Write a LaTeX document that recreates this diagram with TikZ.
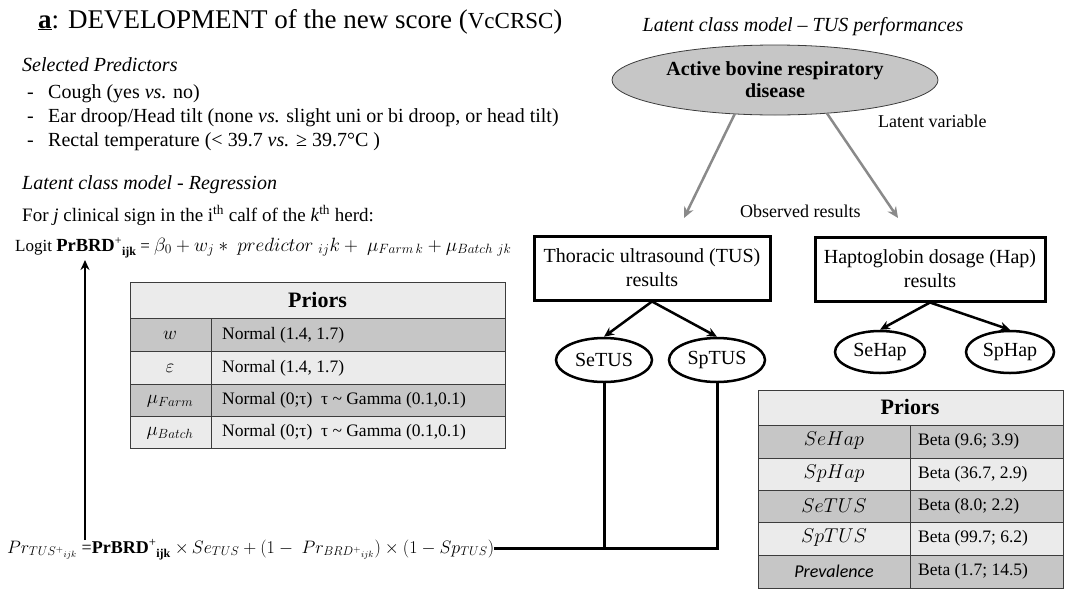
\RequirePackage{fix-cm}
\documentclass[tikz,border=0pt]{standalone}
\usepackage{fontspec}
\setmainfont{Liberation Serif}
\newfontfamily\carl{Carlito}
\usetikzlibrary{shapes.geometric,arrows.meta}
\definecolor{lgray}{HTML}{EBEBEB}
\definecolor{dgray}{HTML}{C6C6C6}
\definecolor{agray}{HTML}{8A8A8A}
\definecolor{bgray}{HTML}{3C3C3C}
\newcommand{\mathbigx}[1]{{\fontsize{19.2}{22}\selectfont$#1$}}
\newcommand{\mathbigy}[1]{{\fontsize{18}{22}\selectfont$#1$}}
\newcommand{\ijkx}{\textbf{\raisebox{-4pt}{\fontsize{12}{14}\selectfont ijk}}}
\begin{document}
\begin{tikzpicture}[x=1pt,y=-1pt,
  T/.style={inner sep=0pt, anchor=base west, font=\fontsize{20}{24}\selectfont},
  S/.style={inner sep=0pt, anchor=base west, font=\fontsize{18}{21}\selectfont},
  obox/.style={draw, line width=3pt, align=center, inner sep=2pt, font=\fontsize{20}{24}\selectfont},
  oell/.style={draw, ellipse, line width=2.5pt, inner sep=0pt, font=\fontsize{20}{24}\selectfont},
  garrow/.style={draw=agray, line width=2.5pt, -{Stealth[length=11pt,width=10pt]}},
  barrow/.style={draw, line width=2.5pt, -{Stealth[length=10pt,width=9pt]}},
  link/.style={draw, line width=3pt},
  tline/.style={draw=bgray, line width=1pt},
  cell/.style={inner sep=0pt, font=\fontsize{17.5}{20}\selectfont},
  cellm/.style={inner sep=0pt, font=\fontsize{19}{22}\selectfont},
  hdr/.style={inner sep=0pt, font=\fontsize{22}{26}\selectfont\bfseries}
]
\useasboundingbox (0,0) rectangle (1073,592);

% ---------- left part ----------
\node[T, font=\fontsize{27}{31}\selectfont] (title) at (38,28)
  {\underline{\textbf{a}}: DEVELOPMENT of the new score ({\fontsize{23}{27}\selectfont VcCRSC})};
\node[T] (selp) at (22,71) {\textit{Selected Predictors}};
\node[T] (d1) at (27,98) {-};
\node[T] (p1) at (48,98) {Cough (yes \textit{vs.} no)};
\node[T] (d2) at (27,122) {-};
\node[T] (p2) at (48,122) {Ear droop/Head tilt (none \textit{vs.} slight uni or bi droop, or head tilt)};
\node[T] (d3) at (27,146) {-};
\node[T] (p3) at (48,146) {Rectal temperature (< 39.7 \textit{vs.} ≥ 39.7°C )};
\node[T] (lcm) at (22,189) {\textit{Latent class model - Regression}};
\node[T, font=\fontsize{19}{23}\selectfont] (forj) at (22,221)
  {For \textit{j} clinical sign in the i\textsuperscript{th} calf of the \textit{k}\textsuperscript{th} herd:};
\node[S, font=\fontsize{17}{20}\selectfont] (logit) at (15,251)
  {Logit \textbf{\fontsize{18.5}{21}\selectfont PrBRD}\textsuperscript{+}\ijkx{} = \mathbigx{\beta_0 + w_j *\ predictor\ _{ij}k +\ \mu_{Farm\,k} + \mu_{Batch\ jk}}};

% left priors table
\fill[lgray] (130,282) rectangle (505,318);
\fill[dgray] (130,318) rectangle (505,351);
\fill[lgray] (130,351) rectangle (505,384);
\fill[dgray] (130,384) rectangle (505,416);
\fill[lgray] (130,416) rectangle (505,448);
\draw[tline] (130,282) rectangle (505,448);
\foreach \yy in {318,351,384,416} \draw[tline] (130,\yy) -- (505,\yy);
\draw[tline] (211,318) -- (211,448);
\node[hdr] (lph) at (317.5,300) {Priors};
\node[cellm] (lw) at (170,335) {$w$};
\node[cellm] (le) at (170,368) {$\varepsilon$};
\node[cellm] (lf) at (170,401) {$\mu_{Farm}$};
\node[cellm] (lb) at (170,433) {$\mu_{Batch}$};
\node[cell, anchor=west] (lw2) at (222,335) {Normal (1.4, 1.7)};
\node[cell, anchor=west] (le2) at (222,368) {Normal (1.4, 1.7)};
\node[cell, anchor=west] (lf2) at (222,400) {Normal (0;τ)\ \ τ \textasciitilde{} Gamma (0.1,0.1)};
\node[cell, anchor=west] (lb2) at (222,432) {Normal (0;τ)\ \ τ \textasciitilde{} Gamma (0.1,0.1)};

% bottom equation
\node[S, font=\fontsize{18}{21}\selectfont] (bot) at (7,553)
  {\mathbigy{Pr_{TUS^{+}{}_{ijk}}} =\textbf{PrBRD}\textsuperscript{+}\ijkx{} \mathbigy{\times\, Se_{TUS} + (1-\ Pr_{BRD^{+}{}_{ijk}}) \times (1 - Sp_{TUS})}};
\coordinate (arrbot) at (85,540);
\coordinate (arrtop) at (85,260);
\draw[barrow] (arrbot) -- (arrtop);

% ---------- right part ----------
\node[inner sep=0pt, font=\fontsize{20}{24}\selectfont\itshape] (lctus) at (803,27) {Latent class model -- TUS performances};
\node[ellipse, draw=bgray, line width=0.8pt, fill=dgray, minimum width=326pt, minimum height=70pt,
      align=center, font=\fontsize{20}{22}\selectfont\bfseries] (brd) at (775,80)
      {Active bovine respiratory\\disease};
\node[S] (latv) at (878,127) {Latent variable};
\node[S] (obsr) at (740,217) {Observed results};
\node[obox, minimum width=236pt, minimum height=64pt] (tus) at (652,268) {Thoracic ultrasound (TUS)\\results};
\node[obox, minimum width=230pt, minimum height=64pt] (hap) at (930,269) {Haptoglobin dosage (Hap)\\results};
\node[oell, minimum width=96pt, minimum height=44pt] (setus) at (604,360) {SeTUS};
\node[oell, minimum width=96pt, minimum height=44pt] (sptus) at (717,360) {SpTUS};
\node[oell, minimum width=90pt, minimum height=42pt] (sehap) at (880,352) {SeHap};
\node[oell, minimum width=88pt, minimum height=42pt] (sphap) at (1010,352) {SpHap};

\draw[garrow] (brd.south) ++(-40,-2) coordinate (g1) -- (684,218);
\draw[garrow] (brd.south) ++(52,-2) coordinate (g2) -- (898,218);
\draw[barrow] (tus.south) -- (setus.north);
\draw[barrow] (tus.south) -- (sptus.north);
\draw[barrow] (hap.south) -- (sehap.north);
\draw[barrow] (hap.south) -- (sphap.north);

\coordinate (j1) at (setus.south |- 0,548);
\coordinate (j2) at (sptus.south |- 0,548);
\draw[link] (setus.south) -- (j1);
\draw[link] (bot.east |- 0,548) -- (j2) -- (sptus.south);

% right priors table
\fill[lgray] (758,390) rectangle (1063,425);
\fill[dgray] (758,425) rectangle (1063,458);
\fill[lgray] (758,458) rectangle (1063,490);
\fill[dgray] (758,490) rectangle (1063,522);
\fill[lgray] (758,522) rectangle (1063,555);
\fill[dgray] (758,555) rectangle (1063,588);
\draw[tline] (758,390) rectangle (1063,588);
\foreach \yy in {425,458,490,522,555} \draw[tline] (758,\yy) -- (1063,\yy);
\draw[tline] (910,425) -- (910,588);
\node[hdr] (rph) at (910,407) {Priors};
\node[cellm, font=\fontsize{20}{23}\selectfont] (r1) at (834,441) {$SeHap$};
\node[cellm, font=\fontsize{20}{23}\selectfont] (r2) at (834,474) {$SpHap$};
\node[cellm, font=\fontsize{20}{23}\selectfont] (r3) at (834,506) {$SeTUS$};
\node[cellm, font=\fontsize{20}{23}\selectfont] (r4) at (834,538) {$SpTUS$};
\node[cellm, font=\fontsize{18}{22}\selectfont\carl\itshape] (r5) at (834,571) {Prevalence};
\node[cell, anchor=west] (r1b) at (918,441) {Beta (9.6; 3.9)};
\node[cell, anchor=west] (r2b) at (918,474) {Beta (36.7, 2.9)};
\node[cell, anchor=west] (r3b) at (918,506) {Beta (8.0; 2.2)};
\node[cell, anchor=west] (r4b) at (918,538) {Beta (99.7; 6.2)};
\node[cell, anchor=west] (r5b) at (918,571) {Beta (1.7; 14.5)};
\end{tikzpicture}
\end{document}
